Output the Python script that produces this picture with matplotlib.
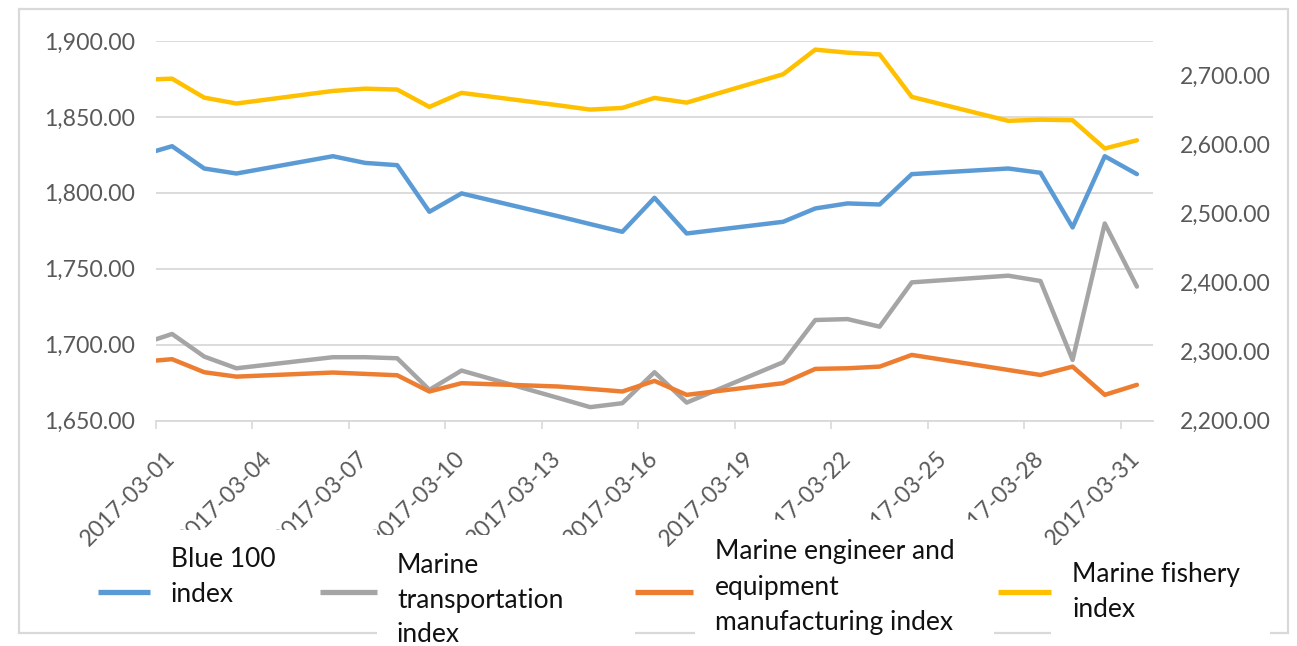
import matplotlib
matplotlib.use("Agg")
import matplotlib.pyplot as plt
import matplotlib.dates as mdates
from matplotlib.lines import Line2D
from matplotlib.patches import Rectangle
from matplotlib.ticker import FuncFormatter, FixedLocator
import pandas as pd

# ---------------- data ----------------
dates = ["2017-02-28", "2017-03-01", "2017-03-02", "2017-03-03", "2017-03-06",
         "2017-03-07", "2017-03-08", "2017-03-09", "2017-03-10", "2017-03-13",
         "2017-03-14", "2017-03-15", "2017-03-16", "2017-03-17", "2017-03-20",
         "2017-03-21", "2017-03-22", "2017-03-23", "2017-03-24", "2017-03-27",
         "2017-03-28", "2017-03-29", "2017-03-30", "2017-03-31"]

blue100 = [1824.5, 1830.7, 1816.0, 1812.7, 1824.1, 1819.7, 1818.2, 1787.5,
           1799.6, 1784.6, 1779.4, 1774.3, 1796.7, 1773.2, 1780.9, 1789.7,
           1793.0, 1792.3, 1812.3, 1816.0, 1813.2, 1777.2, 1824.1, 1812.3]

transport = [1700.0, 1707.0, 1692.1, 1684.4, 1691.7, 1691.7, 1691.0, 1670.2,
             1682.9, 1664.9, 1658.8, 1661.4, 1681.8, 1661.8, 1688.4, 1716.2,
             1716.8, 1711.8, 1741.0, 1745.4, 1741.9, 1689.9, 1779.8, 1738.2]

engineer = [1688.6, 1690.4, 1681.8, 1678.9, 1681.6, 1680.7, 1679.8, 1669.1,
            1674.6, 1672.4, 1670.8, 1669.1, 1676.1, 1666.9, 1674.6, 1684.0,
            1684.4, 1685.5, 1693.2, 1683.3, 1680.0, 1685.5, 1666.9, 1673.5]

# secondary (right) axis series
fishery = [2693.7, 2695.4, 2667.9, 2659.4, 2677.6, 2680.9, 2679.6, 2654.5,
           2674.8, 2656.9, 2650.6, 2653.0, 2667.5, 2660.7, 2701.8, 2737.5,
           2733.1, 2730.6, 2669.0, 2634.3, 2636.0, 2635.2, 2594.2, 2606.1]

series_names = ["Blue 100\nindex", "Marine\ntransportation\nindex",
                "Marine engineer and\nequipment\nmanufacturing index",
                "Marine fishery\nindex"]
colors = ["#5B9BD5", "#A5A5A5", "#ED7D31", "#FFC000"]

left_ticks = [1650, 1700, 1750, 1800, 1850, 1900]
right_ticks = [2200, 2300, 2400, 2500, 2600, 2700]
tick_dates = pd.date_range("2017-03-01", "2017-03-31", freq="3D")

# ---------------- style ----------------
plt.rcParams["font.family"] = ["Lato", "DejaVu Sans"]
GRID = "#D9D9D9"
TXT = "#595959"

W, H = 1297, 646
fig = plt.figure(figsize=(W / 100, H / 100), dpi=100)
fig.patch.set_facecolor("white")


def fx(px):
    return px / W


def fy(py):
    return 1 - py / H


ax = fig.add_axes([fx(156), fy(420.5), fx(1153) - fx(156), fy(41) - fy(420.5)])
ax2 = ax.twinx()

x = mdates.date2num(pd.to_datetime(dates)) + 0.5   # centred within each day

lw = 3.2
ax.plot(x, blue100, color=colors[0], lw=lw, solid_joinstyle="round", solid_capstyle="round", zorder=3)
ax.plot(x, transport, color=colors[1], lw=lw, solid_joinstyle="round", solid_capstyle="round", zorder=4)
ax.plot(x, engineer, color=colors[2], lw=lw, solid_joinstyle="round", solid_capstyle="round", zorder=5)
ax2.plot(x, fishery, color=colors[3], lw=lw, solid_joinstyle="round", solid_capstyle="round", zorder=3)

x0 = mdates.date2num(pd.Timestamp("2017-03-01"))
x1 = mdates.date2num(pd.Timestamp("2017-04-01"))
ax.set_xlim(x0, x1)
ax.set_ylim(1650, 1900)
ax2.set_ylim(2200, 2750)

# y axes
ax.set_yticks(left_ticks)
ax.yaxis.set_major_formatter(FuncFormatter(lambda v, p: f"{v:,.2f}"))
ax.tick_params(axis="y", length=0, pad=15, labelsize=16.6, labelcolor=TXT)
ax2.set_yticks(right_ticks)
ax2.yaxis.set_major_formatter(FuncFormatter(lambda v, p: f"{v:,.2f}"))
ax2.tick_params(axis="y", length=0, pad=19, labelsize=16.6, labelcolor=TXT)

ax.grid(axis="y", color=GRID, lw=1.3)
ax.set_axisbelow(True)

# x axis: tick marks at day boundaries, labels centred on the day
tick_nums = mdates.date2num(tick_dates)
ax.xaxis.set_major_locator(FixedLocator(tick_nums))
ax.xaxis.set_major_formatter(FuncFormatter(lambda v, p: ""))
ax.xaxis.set_minor_locator(FixedLocator(tick_nums + 0.5))
ax.xaxis.set_minor_formatter(FuncFormatter(lambda v, p: mdates.num2date(v).strftime("%Y-%m-%d")))
ax.tick_params(axis="x", which="major", length=6, width=1.2, color=GRID)
ax.tick_params(axis="x", which="minor", length=0, pad=25, labelsize=16.6, labelcolor=TXT)
for lab in ax.get_xticklabels(minor=True):
    lab.set_rotation(45)
    lab.set_rotation_mode("anchor")
    lab.set_ha("right")
    lab.set_va("center")

for a in (ax, ax2):
    for s in ("left", "right", "top"):
        a.spines[s].set_visible(False)
ax2.spines["bottom"].set_visible(False)
ax.spines["bottom"].set_color(GRID)
ax.spines["bottom"].set_linewidth(1.3)

# chart frame
fig.add_artist(Rectangle((fx(19), fy(633)), fx(1288) - fx(19), fy(9) - fy(633),
                         transform=fig.transFigure, fill=False, ec=GRID, lw=1.6, zorder=1))

# legend (Excel-like: white text boxes that overlap labels and frame)
boxes = [(150, 530, 377, 620), (377, 535, 635, 646), (695, 520, 994, 646), (1051, 545, 1270, 646)]
for (l, t, r, b) in boxes:
    fig.add_artist(Rectangle((fx(l), fy(b)), fx(r) - fx(l), fy(t) - fy(b),
                             transform=fig.transFigure, fc="white", ec="none", zorder=5))

handles = [(98, 150), (320, 377), (635, 693), (998, 1051)]
for (hl, hr), c in zip(handles, colors):
    fig.add_artist(Line2D([fx(hl), fx(hr)], [fy(592), fy(592)], transform=fig.transFigure,
                          color=c, lw=3.8, solid_capstyle="butt", zorder=6))

text_pos = [(171, [567, 602]), (397, [573, 608, 642]), (715, [559, 595, 630]), (1072, [582, 617])]
for name, (tx, baselines) in zip(series_names, text_pos):
    for line, by in zip(name.split("\n"), baselines):
        fig.text(fx(tx), fy(by), line, ha="left", va="baseline", fontsize=19,
                 color="#111111", zorder=7)

fig.savefig("out.png", dpi=100, facecolor="white")
